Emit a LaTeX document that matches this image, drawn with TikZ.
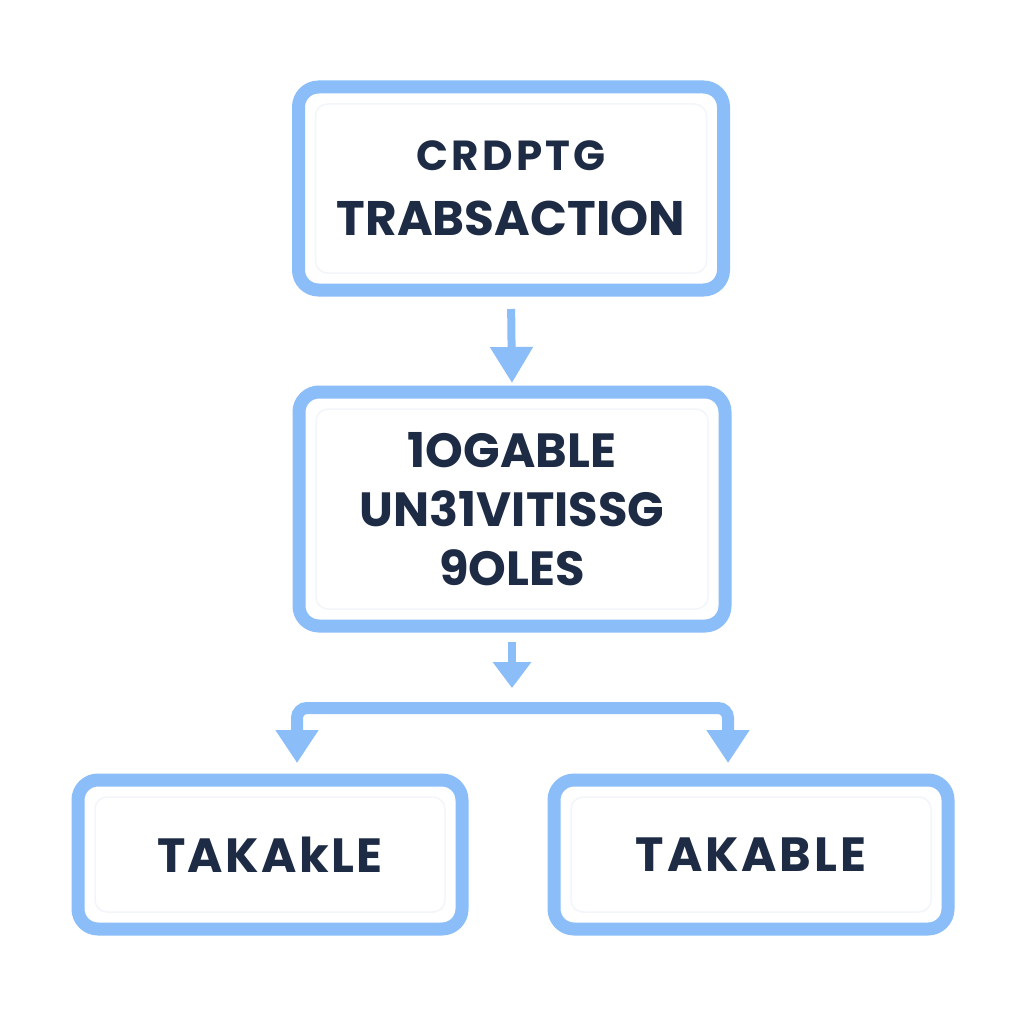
\documentclass[tikz,border=0pt]{standalone}
\usepackage{fontspec}
\setmainfont{Poppins}
\usetikzlibrary{arrows.meta}
\definecolor{edge}{HTML}{8BBDF8}
\definecolor{ink}{HTML}{1E2B45}
\definecolor{faint}{HTML}{F2F5F9}
\begin{document}
\begin{tikzpicture}[x=1pt,y=-1pt,
  box/.style={draw=edge, line width=13pt, rounded corners=20pt, fill=white,
    inner sep=0pt, align=center, text=ink,
    path picture={\draw[faint, line width=1.5pt, rounded corners=12pt]
      ([shift={(17pt,17pt)}]path picture bounding box.south west) rectangle
      ([shift={(-17pt,-17pt)}]path picture bounding box.north east);}},
  arr/.style={draw=edge, line width=8pt, -{Triangle[width=41pt,length=36pt]}},
  arrsmall/.style={draw=edge, line width=8pt, -{Triangle[width=37pt,length=26pt]}},
  branch/.style={draw=edge, line width=12pt, rounded corners=10pt, -{Triangle[width=41pt,length=33pt]}}
]
\useasboundingbox[fill=white] (0,0) rectangle (1024,1024);

\node[box, minimum width=425pt, minimum height=203pt,
  font=\bfseries\fontsize{48.5}{65}\selectfont] (top) at (511,188.5)
  {{\fontsize{42}{65}\selectfont\addfontfeature{LetterSpace=8}CRDPTG}\\TRABSACTION};

\node[box, minimum width=426pt, minimum height=234pt,
  font=\bfseries\fontsize{48}{59}\selectfont] (mid) at (512,509)
  {1OGABLE\\UN31VITISSG\\9OLES};

\node[box, minimum width=384pt, minimum height=149pt,
  font=\bfseries\fontsize{48}{59}\selectfont\addfontfeature{LetterSpace=5}] (left) at (270,854.5) {TAKAkLE};
\node[box, minimum width=394pt, minimum height=149pt,
  font=\bfseries\fontsize{48}{59}\selectfont\addfontfeature{LetterSpace=6}] (right) at (751,854.5) {TAKABLE};

\coordinate (split) at (512,708);
\coordinate (lt) at (297,763);
\coordinate (rt) at (728,763);

\draw[arr, shorten <=12.5pt, shorten >=2.5pt] (top.south) -- (mid.north);
\draw[arrsmall, shorten <=9.5pt, shorten >=20pt] (mid.south) -- (split);
\draw[branch] (split) -| (lt);
\draw[branch] (split) -| (rt);
\end{tikzpicture}
\end{document}
